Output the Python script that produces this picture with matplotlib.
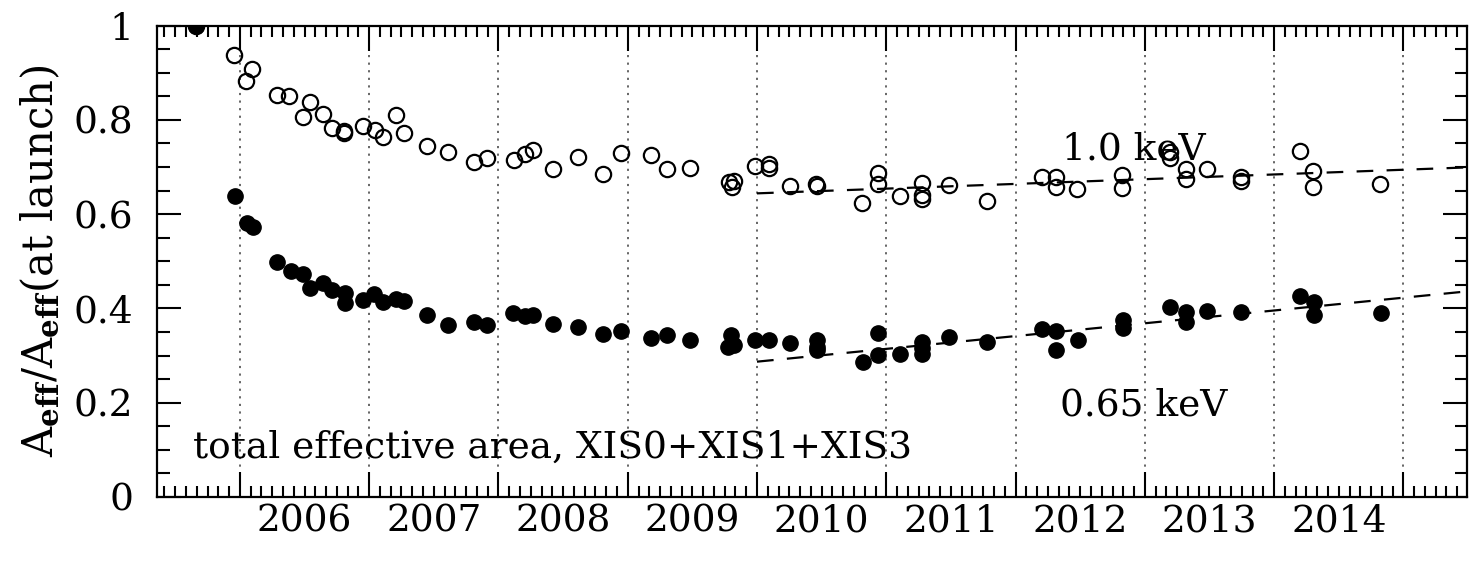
import numpy as np
import matplotlib
matplotlib.use("Agg")
import matplotlib.pyplot as plt
from matplotlib.ticker import MultipleLocator, NullFormatter

plt.rcParams['font.family'] = ['DejaVu Serif']
plt.rcParams['mathtext.fontset'] = 'dejavuserif'

# 1.0 keV (open circles): decimal year, Aeff / Aeff(launch)
t_10 = [2005.66, 2005.956, 2006.044, 2006.095, 2006.284, 2006.381, 2006.485, 2006.541,
        2006.640, 2006.714, 2006.804, 2006.804, 2006.949, 2007.044, 2007.110, 2007.210,
        2007.268, 2007.444, 2007.609, 2007.810, 2007.913, 2008.119, 2008.204, 2008.268,
        2008.423, 2008.612, 2008.805, 2008.947, 2009.181, 2009.307, 2009.480, 2009.785,
        2009.820, 2009.803, 2009.983, 2010.094, 2010.094, 2010.253, 2010.460, 2010.466,
        2010.816, 2010.937, 2010.937, 2011.104, 2011.277, 2011.277, 2011.277, 2011.486,
        2011.780, 2012.207, 2012.311, 2012.311, 2012.478, 2012.827, 2012.827, 2013.193,
        2013.193, 2013.322, 2013.322, 2013.480, 2013.742, 2013.742, 2014.198, 2014.301,
        2014.301, 2014.822]
a_10 = [1.000, 0.937, 0.882, 0.908, 0.853, 0.850, 0.807, 0.838,
        0.812, 0.783, 0.776, 0.771, 0.787, 0.778, 0.763, 0.811,
        0.771, 0.744, 0.731, 0.711, 0.718, 0.715, 0.727, 0.736,
        0.696, 0.722, 0.684, 0.730, 0.726, 0.696, 0.698, 0.669,
        0.670, 0.658, 0.702, 0.706, 0.697, 0.660, 0.663, 0.660,
        0.624, 0.688, 0.663, 0.638, 0.665, 0.640, 0.633, 0.662,
        0.628, 0.679, 0.678, 0.658, 0.653, 0.683, 0.656, 0.732,
        0.718, 0.695, 0.674, 0.695, 0.679, 0.671, 0.734, 0.692,
        0.657, 0.663]

# 0.65 keV (filled circles)
t_065 = [2005.66, 2005.961, 2006.052, 2006.098, 2006.284, 2006.392, 2006.485, 2006.541,
         2006.640, 2006.714, 2006.812, 2006.812, 2006.949, 2007.036, 2007.110, 2007.205,
         2007.268, 2007.444, 2007.609, 2007.810, 2007.913, 2008.114, 2008.204, 2008.268,
         2008.423, 2008.612, 2008.805, 2008.947, 2009.183, 2009.307, 2009.480, 2009.801,
         2009.777, 2009.823, 2009.983, 2010.094, 2010.259, 2010.464, 2010.464, 2010.464,
         2010.820, 2010.937, 2010.937, 2011.104, 2011.277, 2011.277, 2011.277, 2011.486,
         2011.780, 2012.207, 2012.311, 2012.311, 2012.482, 2012.830, 2012.830, 2013.196,
         2013.322, 2013.322, 2013.480, 2013.747, 2014.198, 2014.306, 2014.306, 2014.829]
a_065 = [1.000, 0.639, 0.582, 0.572, 0.499, 0.480, 0.474, 0.443,
         0.453, 0.439, 0.433, 0.412, 0.418, 0.431, 0.414, 0.419,
         0.416, 0.385, 0.365, 0.372, 0.365, 0.390, 0.384, 0.387,
         0.367, 0.361, 0.346, 0.352, 0.337, 0.344, 0.332, 0.344,
         0.318, 0.322, 0.333, 0.334, 0.327, 0.333, 0.318, 0.311,
         0.286, 0.348, 0.301, 0.303, 0.329, 0.315, 0.303, 0.340,
         0.329, 0.356, 0.353, 0.312, 0.333, 0.375, 0.358, 0.404,
         0.393, 0.372, 0.395, 0.393, 0.426, 0.414, 0.386, 0.390]

# linear trends after 2010
fit_t = [2010.0, 2015.49]
fit_10 = [0.644, 0.699]
fit_065 = [0.287, 0.436]

years = list(range(2006, 2015))

FS = 27

fig = plt.figure(figsize=(14.75, 5.62), dpi=100)
ax = fig.add_axes([0.1062, 0.1157, 0.8882, 0.8389])
ax.set_xlim(2005.356, 2015.49)
ax.set_ylim(0, 1)

for yr in range(2006, 2016):
    ax.axvline(yr, color='0.35', linestyle=(0, (1.2, 3)), linewidth=1.3, zorder=1)

ax.plot(fit_t, fit_10, color='black', linestyle=(0, (7.5, 6)), linewidth=1.6, zorder=2)
ax.plot(fit_t, fit_065, color='black', linestyle=(0, (7.5, 6)), linewidth=1.6, zorder=2)

ax.plot(t_10, a_10, 'o', markersize=11, markerfacecolor='none', markeredgecolor='black',
        markeredgewidth=1.6, zorder=3)
ax.plot(t_065, a_065, 'o', markersize=11, color='black', zorder=4)

ax.text(2012.36, 0.737, '1.0 keV', fontsize=FS, ha='left', va='center')
ax.text(2012.34, 0.195, '0.65 keV', fontsize=FS, ha='left', va='center')
ax.text(2005.64, 0.104, 'total effective area, XIS0+XIS1+XIS3', fontsize=FS,
        ha='left', va='center')

ax.xaxis.set_major_locator(MultipleLocator(1))
ax.xaxis.set_minor_locator(MultipleLocator(1 / 12))
ax.xaxis.set_major_formatter(NullFormatter())
for yr in years:
    ax.text(yr + 0.5, -0.052, str(yr), fontsize=FS, ha='center', va='center', clip_on=False)

ax.yaxis.set_minor_locator(MultipleLocator(0.05))
ax.set_yticks([0, 0.2, 0.4, 0.6, 0.8, 1.0])
ax.set_yticklabels(['0', '0.2', '0.4', '0.6', '0.8', '1'])

ax.tick_params(which='both', direction='in', top=True, right=True, width=1.5,
               labelsize=FS)
ax.tick_params(axis='y', which='major', pad=17)
ax.tick_params(axis='x', which='major', length=18)
ax.tick_params(axis='x', which='minor', length=8)
ax.tick_params(axis='y', which='major', length=17)
ax.tick_params(axis='y', which='minor', length=9)
for s in ax.spines.values():
    s.set_linewidth(1.6)

ax.set_ylabel(r'A$_{\mathbf{eff}}$/A$_{\mathbf{eff}}$(at launch)', fontsize=30, labelpad=8)

fig.savefig('out.png', dpi=100)
